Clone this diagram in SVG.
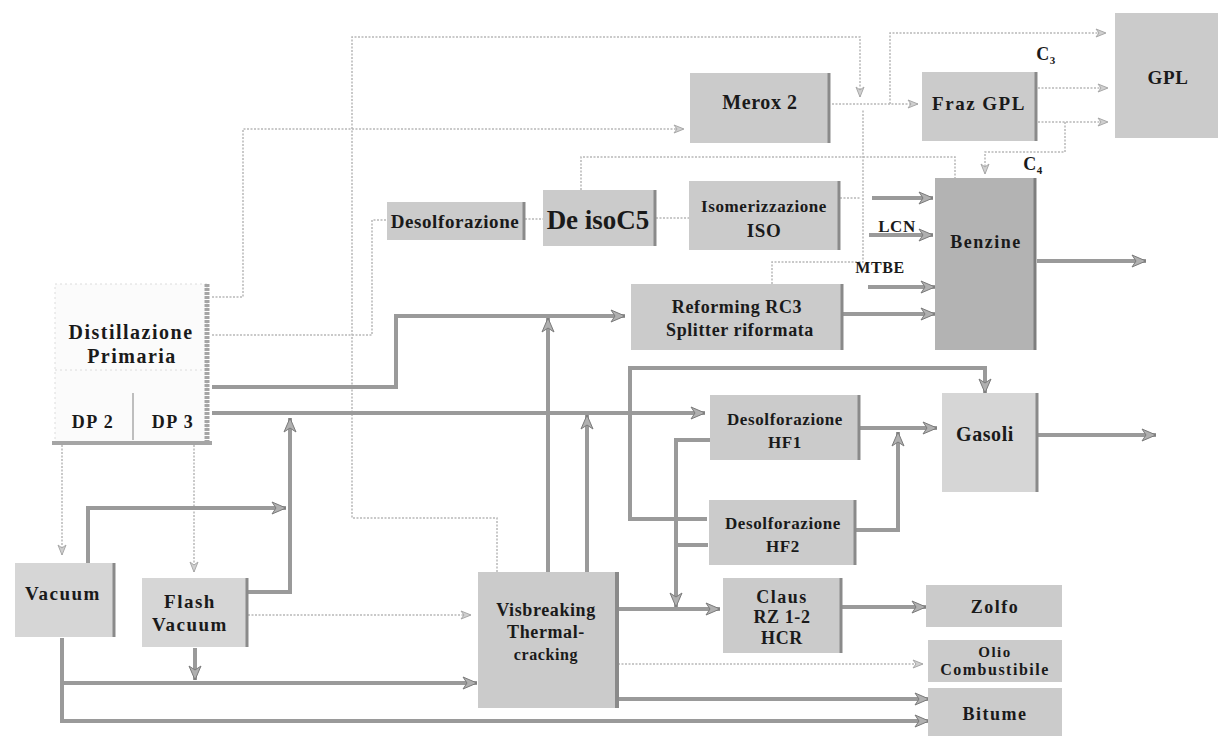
<svg xmlns="http://www.w3.org/2000/svg" width="1218" height="736" viewBox="0 0 1218 736">
<defs>
<style>
.n{fill:#cbcbcb}
.nd{fill:#b3b3b3}
.nl{fill:#d6d6d6}
.edge{stroke:#8a8a8a;stroke-width:3;fill:none}
.t{font-family:"Liberation Serif","Times New Roman",serif;font-weight:700;fill:#1a1a1a;text-anchor:middle;letter-spacing:0.6px}
.w{letter-spacing:1.5px}
.thick{fill:none;stroke:#9a9a9a;stroke-width:4;stroke-linejoin:miter}
.thin{fill:none;stroke:#b8b8b8;stroke-width:1.5;stroke-dasharray:2 1.5}
</style>
<marker id="ah" markerUnits="userSpaceOnUse" markerWidth="16" markerHeight="14" refX="15" refY="7" orient="auto">
<path d="M1,1 L15,7 L1,13 L5,7 z" fill="#b0b0b0" stroke="#7a7a7a" stroke-width="1"/>
</marker>
<marker id="as" markerUnits="userSpaceOnUse" markerWidth="12" markerHeight="10" refX="11" refY="5" orient="auto">
<path d="M1,1 L11,5 L1,9 L4,5 z" fill="#d0d0d0" stroke="#a8a8a8" stroke-width="1"/>
</marker>
</defs>
<rect width="1218" height="736" fill="#ffffff"/>

<g id="connectors">
<polyline class="thin" points="497,572 497,518 352,518 352,37 860,37 860,97" marker-end="url(#as)"/>
<polyline class="thin" points="212,297 243,297 243,129 684,129" marker-end="url(#as)"/>
<polyline class="thin" points="832,104 918,104" marker-end="url(#as)"/>
<polyline class="thin" points="890,104 890,33 1106,33" marker-end="url(#as)"/>
<polyline class="thin" points="1038,88 1108,88" marker-end="url(#as)"/>
<polyline class="thin" points="1038,122 1108,122" marker-end="url(#as)"/>
<polyline class="thin" points="1065,122 1065,152 985,152 985,174" marker-end="url(#as)"/>
<polyline class="thin" points="581,190 581,157 955,157 955,178"/>
<polyline class="thin" points="772,284 772,262 863,262 863,110"/>
<polyline class="thin" points="212,335 372,335 372,220 387,220"/>
<line class="thin" x1="525" y1="219" x2="543" y2="219"/>
<line class="thin" x1="656" y1="218" x2="689" y2="218"/>
<line class="thin" x1="840" y1="198" x2="860" y2="198"/>
<polyline class="thin" points="62,445 62,555" marker-end="url(#as)"/>
<polyline class="thin" points="194,445 194,572" marker-end="url(#as)"/>
<polyline class="thin" points="248,615 471,615" marker-end="url(#as)"/>
<polyline class="thin" points="618,664 923,664" marker-end="url(#as)"/>
<polyline class="thick" points="212,387 396,387 396,316 625,316" marker-end="url(#ah)"/>
<polyline class="thick" points="212,413 705,413" marker-end="url(#ah)"/>
<polyline class="thick" points="248,592 290,592 290,418" marker-end="url(#ah)"/>
<polyline class="thick" points="88,563 88,508 286,508" marker-end="url(#ah)"/>
<polyline class="thick" points="548,572 548,318" marker-end="url(#ah)"/>
<polyline class="thick" points="587,572 587,415" marker-end="url(#ah)"/>
<polyline class="thick" points="707,519 630,519 630,368 985,368 985,393" marker-end="url(#ah)"/>
<polyline class="thick" points="710,440 676,440 676,607" marker-end="url(#ah)"/>
<polyline class="thick" points="676,545 708,545"/>
<polyline class="thick" points="618,609 720,609" marker-end="url(#ah)"/>
<polyline class="thick" points="860,428 937,428" marker-end="url(#ah)"/>
<polyline class="thick" points="856,530 898,530 898,432" marker-end="url(#ah)"/>
<polyline class="thick" points="1038,435 1156,435" marker-end="url(#ah)"/>
<polyline class="thick" points="842,607 926,607" marker-end="url(#ah)"/>
<polyline class="thick" points="618,699 929,699" marker-end="url(#ah)"/>
<polyline class="thick" points="62,638 62,721 929,721" marker-end="url(#ah)"/>
<polyline class="thick" points="64,683 477,683" marker-end="url(#ah)"/>
<polyline class="thick" points="195,648 195,680" marker-end="url(#ah)"/>
<polyline class="thick" points="872,198 933,198" marker-end="url(#ah)"/>
<polyline class="thick" points="869,235 933,235" marker-end="url(#ah)"/>
<polyline class="thick" points="868,287 935,287" marker-end="url(#ah)"/>
<polyline class="thick" points="843,314 935,314" marker-end="url(#ah)"/>
<polyline class="thick" points="1037,261 1146,261" marker-end="url(#ah)"/>
</g>

<g id="distillazione">
<rect x="55" y="284" width="152" height="158" fill="#fbfbfb" stroke="#dcdcdc" stroke-width="1" stroke-dasharray="2 3"/>
<line x1="55" y1="370" x2="207" y2="370" stroke="#dcdcdc" stroke-dasharray="2 3"/>
<line x1="133" y1="393" x2="133" y2="440" stroke="#aaaaaa" stroke-width="1.5"/>
<line x1="207" y1="284" x2="207" y2="444" stroke="#a5a5a5" stroke-width="5" stroke-dasharray="3 1"/>
<line x1="52" y1="443" x2="212" y2="443" stroke="#a5a5a5" stroke-width="4"/>
<text class="t w" x="131" y="339" font-size="20">Distillazione</text>
<text class="t w" x="132" y="363" font-size="20">Primaria</text>
<text class="t w" x="93" y="428" font-size="18">DP 2</text>
<text class="t w" x="173" y="428" font-size="18">DP 3</text>
</g>

<g id="merox2">
<rect class="n" x="690" y="73" width="140" height="70"/>
<line class="edge" x1="829" y1="73" x2="829" y2="143"/>
<text class="t" x="760" y="109" font-size="20">Merox 2</text>
</g>
<g id="frazgpl">
<rect class="n" x="922" y="72" width="115" height="69"/>
<line class="edge" x1="1036" y1="72" x2="1036" y2="141"/>
<text class="t w" x="979" y="110" font-size="19">Fraz GPL</text>
</g>
<g id="gpl">
<rect class="n" x="1115" y="13" width="103" height="125"/>
<text class="t" x="1168" y="84" font-size="19">GPL</text>
</g>
<g id="c3">
<text class="t" x="1046" y="60" font-size="18">C<tspan font-size="11" dy="4">3</tspan></text>
</g>
<g id="c4">
<text class="t" x="1033" y="170" font-size="18">C<tspan font-size="11" dy="4">4</tspan></text>
</g>
<g id="desolforazione">
<rect class="n" x="387" y="202" width="138" height="38"/>
<line class="edge" x1="524" y1="202" x2="524" y2="240"/>
<text class="t" x="455" y="228" font-size="19">Desolforazione</text>
</g>
<g id="deisoc5">
<rect class="n" x="543" y="190" width="113" height="56"/>
<line class="edge" x1="655" y1="190" x2="655" y2="246"/>
<text class="t" x="598" y="229" font-size="27" style="letter-spacing:0">De isoC5</text>
</g>
<g id="isomerizzazione">
<rect class="n" x="689" y="181" width="151" height="69"/>
<line class="edge" x1="839" y1="181" x2="839" y2="250"/>
<text class="t" x="764" y="212" font-size="17">Isomerizzazione</text>
<text class="t" x="764" y="237" font-size="19">ISO</text>
</g>
<g id="lcn"><text class="t" x="897" y="232" font-size="17">LCN</text></g>
<g id="mtbe"><text class="t" x="880" y="273" font-size="16">MTBE</text></g>
<g id="benzine">
<rect class="nd" x="935" y="178" width="101" height="172"/>
<line x1="1035" y1="178" x2="1035" y2="350" stroke="#7e7e7e" stroke-width="3"/>
<text class="t w" x="986" y="248" font-size="18">Benzine</text>
</g>
<g id="reforming">
<rect class="n" x="631" y="284" width="212" height="66"/>
<line class="edge" x1="842" y1="284" x2="842" y2="350"/>
<text class="t" x="737" y="313" font-size="18">Reforming RC3</text>
<text class="t" x="740" y="336" font-size="18">Splitter riformata</text>
</g>
<g id="hf1">
<rect class="n" x="710" y="395" width="150" height="65"/>
<line class="edge" x1="859" y1="395" x2="859" y2="460"/>
<text class="t" x="785" y="425" font-size="17">Desolforazione</text>
<text class="t" x="785" y="448" font-size="17">HF1</text>
</g>
<g id="gasoli">
<rect class="nl" x="942" y="393" width="96" height="99"/>
<line class="edge" x1="1037" y1="393" x2="1037" y2="492"/>
<text class="t" x="985" y="441" font-size="20">Gasoli</text>
</g>
<g id="hf2">
<rect class="n" x="709" y="500" width="147" height="65"/>
<line class="edge" x1="855" y1="500" x2="855" y2="565"/>
<text class="t" x="783" y="529" font-size="17">Desolforazione</text>
<text class="t" x="783" y="552" font-size="17">HF2</text>
</g>
<g id="claus">
<rect class="n" x="723" y="578" width="119" height="75"/>
<line class="edge" x1="841" y1="578" x2="841" y2="653"/>
<text class="t w" x="782" y="603" font-size="18">Claus</text>
<text class="t" x="782" y="623" font-size="18">RZ 1-2</text>
<text class="t" x="782" y="644" font-size="18">HCR</text>
</g>
<g id="zolfo">
<rect class="n" x="926" y="585" width="136" height="42"/>
<text class="t w" x="995" y="613" font-size="18">Zolfo</text>
</g>
<g id="olio">
<rect class="n" x="928" y="640" width="134" height="42"/>
<text class="t w" x="995" y="657" font-size="15">Olio</text>
<text class="t w" x="995" y="675" font-size="16">Combustibile</text>
</g>
<g id="bitume">
<rect class="n" x="928" y="688" width="134" height="48"/>
<text class="t w" x="995" y="720" font-size="18">Bitume</text>
</g>
<g id="vacuum">
<rect class="nl" x="15" y="563" width="100" height="74"/>
<line class="edge" x1="114" y1="563" x2="114" y2="637"/>
<text class="t w" x="63" y="600" font-size="19">Vacuum</text>
</g>
<g id="flashvacuum">
<rect class="nl" x="142" y="578" width="106" height="69"/>
<line class="edge" x1="247" y1="578" x2="247" y2="647"/>
<text class="t w" x="190" y="608" font-size="19">Flash</text>
<text class="t w" x="190" y="631" font-size="19">Vacuum</text>
</g>
<g id="visbreaking">
<rect class="n" x="478" y="572" width="140" height="136"/>
<line x1="617" y1="572" x2="617" y2="708" stroke="#8a8a8a" stroke-width="4"/>
<text class="t" x="546" y="616" font-size="18">Visbreaking</text>
<text class="t" x="546" y="638" font-size="18">Thermal-</text>
<text class="t" x="546" y="660" font-size="16">cracking</text>
</g>
</svg>
